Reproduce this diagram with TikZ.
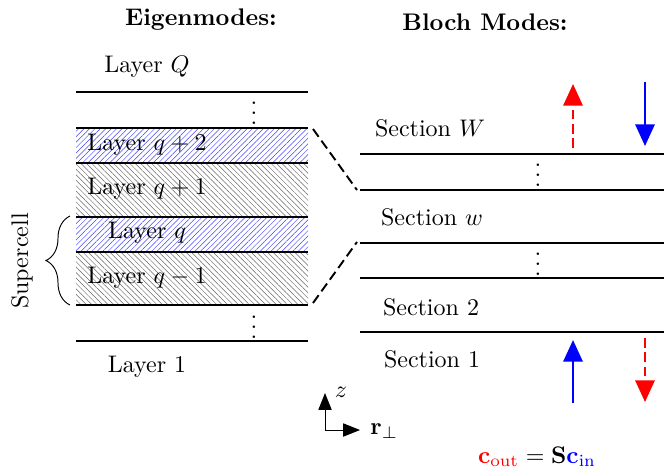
\documentclass[tikz,border=0pt]{standalone}
\usetikzlibrary{arrows.meta,patterns.meta,decorations.pathreplacing}

\tikzset{
    boundary/.style={thick},
    bluehatch/.style={pattern={Lines[angle=45,distance=1.6pt,line width=0.2pt]},pattern color=blue!75},
    grayhatch/.style={pattern={Lines[angle=-45,distance=1.6pt,line width=0.2pt]},pattern color=black!60},
    zoomline/.style={thick,dash pattern=on 4pt off 2pt},
    modearrow/.style={line width=1pt,-{Triangle[width=8pt,length=9pt]}},
    axisarrow/.style={-{Triangle[width=5.5pt,length=7pt]}},
}

\begin{document}
\begin{tikzpicture}[x=0.4167pt,y=-0.4167pt]

    % Frame of the picture (pixel grid, y down)
    \useasboundingbox (0,0) rectangle (671,468);

    % Headings
    \node (eigTitle) at (201,20) {\textbf{Eigenmodes:}};
    \node (blochTitle) at (485,22) {\textbf{Bloch Modes:}};

    % Hatched layers of the stack
    \fill[bluehatch] (76,128) rectangle (308,163);
    \fill[grayhatch] (76,163) rectangle (308,217);
    \fill[bluehatch] (76,217) rectangle (308,252);
    \fill[grayhatch] (76,252) rectangle (308,305);

    % Layer boundaries on the left
    \draw[boundary] (76,92) -- (308,92);
    \draw[boundary] (76,128) -- (308,128);
    \draw[boundary] (76,163) -- (308,163);
    \draw[boundary] (76,217) -- (308,217);
    \draw[boundary] (76,252) -- (308,252);
    \draw[boundary] (76,305) -- (308,305);
    \draw[boundary] (76,341) -- (308,341);

    % Layer labels
    \node (layQ) at (147,67) {Layer $Q$};
    \node (layQtwo) at (147,145) {Layer $q+2$};
    \node (layQone) at (147,189) {Layer $q+1$};
    \node (layq) at (147,233) {Layer $q$};
    \node (layQm) at (147,278) {Layer $q-1$};
    \node (layOne) at (147,367) {Layer 1};
    \node (dotsTop) at (254,106) {$\vdots$};
    \node (dotsLow) at (254,320) {$\vdots$};

    % Supercell brace
    \draw[decorate,decoration={brace,amplitude=10pt}] (70,305) -- (70,216);
    \node[rotate=90] (cellLabel) at (22,261) {Supercell};

    % Section boundaries on the right
    \draw[boundary] (360,154) -- (664,154);
    \draw[boundary] (360,190) -- (664,190);
    \draw[boundary] (360,243) -- (664,243);
    \draw[boundary] (360,278) -- (664,278);
    \draw[boundary] (360,332) -- (664,332);

    % Section labels
    \node (secW) at (430,128) {Section $W$};
    \node (secw) at (432,217) {Section $w$};
    \node (secTwo) at (431,307) {Section 2};
    \node (secOne) at (432,359) {Section 1};
    \node (dotsRTop) at (538,168) {$\vdots$};
    \node (dotsRLow) at (538,257) {$\vdots$};

    % Supercell mapped onto section w
    \coordinate (cellTop) at (313,129);
    \coordinate (cellBot) at (313,303);
    \coordinate (secwTop) at (357,190);
    \coordinate (secwBot) at (357,242);
    \draw[zoomline] (cellTop) -- (secwTop);
    \draw[zoomline] (cellBot) -- (secwBot);

    % Incoming and outgoing modes
    \coordinate (outTopA) at (573,148);
    \coordinate (outTopB) at (573,84);
    \coordinate (inTopA) at (645,82);
    \coordinate (inTopB) at (645,146);
    \coordinate (inBotA) at (573,403);
    \coordinate (inBotB) at (573,340);
    \coordinate (outBotA) at (645,338);
    \coordinate (outBotB) at (645,402);
    \draw[modearrow,red,dash pattern=on 4pt off 2pt] (outTopA) -- (outTopB);
    \draw[modearrow,blue] (inTopA) -- (inTopB);
    \draw[modearrow,blue] (inBotA) -- (inBotB);
    \draw[modearrow,red,dash pattern=on 4pt off 2pt] (outBotA) -- (outBotB);

    % Axes
    \coordinate (axO) at (325,430);
    \coordinate (axZ) at (325,393);
    \coordinate (axR) at (360,430);
    \draw[axisarrow] (axO) -- (axZ);
    \draw[axisarrow] (axO) -- (axR);
    \node (zLabel) at (341,392) {$z$};
    \node[anchor=west] (rLabel) at (362,431) {$\mathbf{r}_\perp$};

    % Scattering relation
    \node[anchor=base] (relation) at (537,463)
        {$\textcolor{red}{\mathbf{c}_{\mathrm{out}}}=\mathbf{S}\textcolor{blue}{\mathbf{c}_{\mathrm{in}}}$};

\end{tikzpicture}
\end{document}
